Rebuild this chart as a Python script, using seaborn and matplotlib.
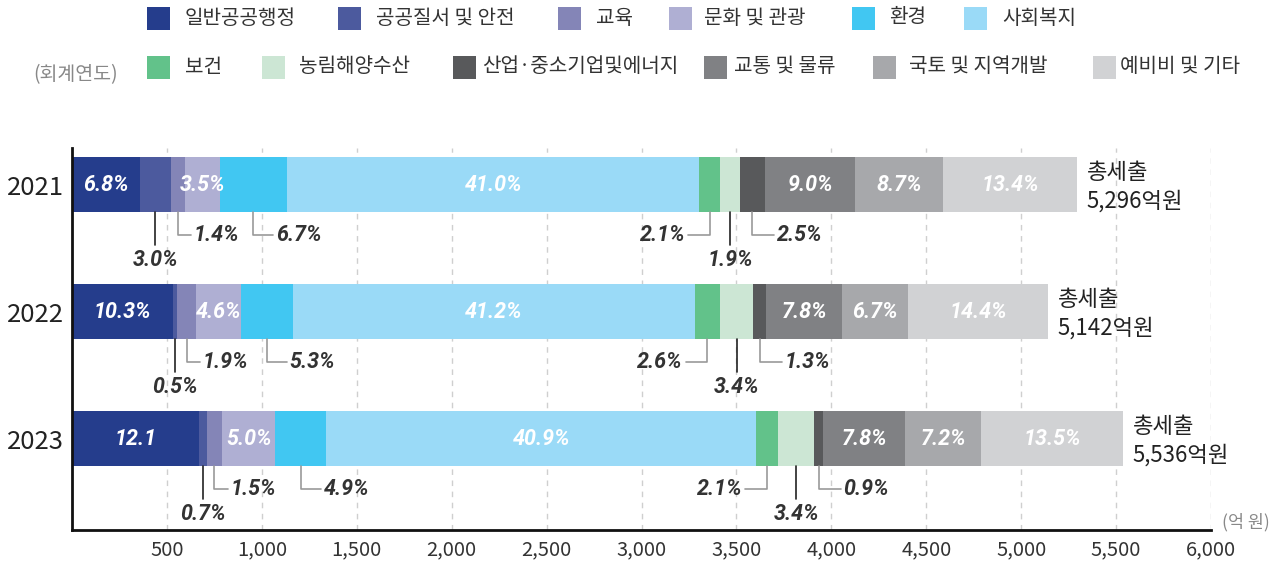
import numpy as np
import pandas as pd
import matplotlib
matplotlib.use("Agg")
import matplotlib.pyplot as plt
import seaborn as sns
from matplotlib.patches import Rectangle


# Data (share of total expenditure, %)
years = ["2021", "2022", "2023"]
totals = [5296, 5142, 5536]
categories = ["일반공공행정", "공공질서 및 안전", "교육", "문화 및 관광", "환경", "사회복지",
              "보건", "농림해양수산", "산업·중소기업및에너지", "교통 및 물류", "국토 및 지역개발", "예비비 및 기타"]
pct_2021 = [6.8, 3.0, 1.4, 3.5, 6.7, 41.0, 2.1, 1.9, 2.5, 9.0, 8.7, 13.4]
pct_2022 = [10.3, 0.5, 1.9, 4.6, 5.3, 41.2, 2.6, 3.4, 1.3, 7.8, 6.7, 14.4]
pct_2023 = [12.1, 0.7, 1.5, 5.0, 4.9, 40.9, 2.1, 3.4, 0.9, 7.8, 7.2, 13.5]
colors = ["#253d8c", "#4c5a9e", "#8485b7", "#afafd3", "#41c7f2", "#9adaf7",
          "#62c28a", "#cce6d4", "#58595b", "#808184", "#a7a8ab", "#d1d2d4"]

# how each share gets labelled: inside the bar or outside with a leader line
label_mode = ["in", "down", "right", "in", "right", "in", "left", "down", "right", "in", "in", "in"]
elbow_len = [0, 0, 70, 0, 105, 0, 115, 0, 115, 0, 0, 0]
label_fix = {("2023", "일반공공행정"): "12.1"}

W, H = 1287, 564


def build_frame():
    rows = []
    for year, total, pcts in zip(years, totals, [pct_2021, pct_2022, pct_2023]):
        for cat, p in zip(categories, pcts):
            rows.append({"year": year, "category": cat, "pct": p, "amount": p / 100 * total})
    df = pd.DataFrame(rows)
    df["cum"] = df.groupby("year")["amount"].cumsum()
    df["start"] = df["cum"] - df["amount"]
    df["mid"] = df["start"] + df["amount"] / 2
    return df


def draw_legend(fig):
    sq_x = [147, 338, 558, 669, 852, 964, 147, 262, 453, 704, 873, 1093]
    tx_x = [185, 376, 596, 704, 889, 1002, 185, 299, 482, 734, 909, 1120]
    for i, (cat, c) in enumerate(zip(categories, colors)):
        yc = 18 if i < 6 else 67
        fig.add_artist(Rectangle((sq_x[i] / W, 1 - (yc + 11.5) / H), 23 / W, 23 / H,
                                 transform=fig.transFigure, color=c, lw=0))
        fig.text(tx_x[i] / W, 1 - yc / H, cat, ha="left", va="center", fontsize=14.5, color="#333333")
    fig.text(33 / W, 1 - 75 / H, "(회계연도)", ha="left", va="center", fontsize=14, color="#888888")


def main():
    sns.set_style("white")
    plt.rcParams["font.family"] = ["Noto Sans CJK KR", "DejaVu Sans"]

    df = build_frame()

    fig = plt.figure(figsize=(W / 100, H / 100), dpi=100)
    ax = fig.add_axes([72 / W, 1 - 530 / H, (1211 - 72) / W, (530 - 148) / H])

    # stacked bars: draw cumulative widths from the last category back to the first
    bar_h = 0.433
    for i in reversed(range(len(categories))):
        sub = df[df["category"] == categories[i]]
        sns.barplot(data=sub, x="cum", y="year", order=years, orient="h", color=colors[i],
                    saturation=1, width=bar_h, errorbar=None, linewidth=0, ax=ax)

    ax.set_xlim(0, 6000)
    ax.set_ylim(2.717, -0.291)
    ax.set_xlabel("")
    ax.set_ylabel("")
    ticks = np.arange(500, 6001, 500)
    ax.set_xticks(ticks)
    ax.set_xticklabels([f"{t:,}" for t in ticks])
    ax.tick_params(axis="x", length=0, pad=7, labelsize=14.5, labelcolor="#333333")
    ax.tick_params(axis="y", length=0, pad=6, labelsize=18.5, labelcolor="#222222")
    ax.grid(axis="x", linestyle=(0, (4, 4)), color="#cfcfcf", linewidth=1)
    ax.set_axisbelow(True)
    sns.despine(ax=ax)
    for side in ["left", "bottom"]:
        ax.spines[side].set_linewidth(2)
        ax.spines[side].set_color("#111111")

    pct_font = dict(family=["Roboto", "DejaVu Sans"], weight="bold", style="italic", fontsize=15.5)
    half = bar_h / 2
    pos = {y: i for i, y in enumerate(years)}
    for _, r in df.iterrows():
        yc = pos[r["year"]]
        k = categories.index(r["category"])
        text = label_fix.get((r["year"], r["category"]), f"{r['pct']:.1f}%")
        mode = label_mode[k]
        mid = r["mid"]
        if mode == "in":
            ax.text(mid, yc, text, ha="center", va="center", color="white", **pct_font)
        elif mode == "down":
            ax.plot([mid, mid], [yc + half, yc + 0.47], color="#222222", lw=1.2)
            ax.text(mid, yc + 0.59, text, ha="center", va="center", color="#333333", **pct_font)
        elif mode == "right":
            ex = mid + elbow_len[k]
            ax.plot([mid, mid, ex], [yc + half, yc + 0.394, yc + 0.394], color="#999999", lw=1.2)
            ax.text(ex + 15, yc + 0.394, text, ha="left", va="center", color="#333333", **pct_font)
        else:
            ex = mid - elbow_len[k]
            ax.plot([mid, mid, ex], [yc + half, yc + 0.394, yc + 0.394], color="#999999", lw=1.2)
            ax.text(ex - 15, yc + 0.394, text, ha="right", va="center", color="#333333", **pct_font)

    for year, total in zip(years, totals):
        yc = pos[year]
        ax.text(total + 50, yc - 0.10, "총세출", ha="left", va="center", fontsize=16, color="#222222")
        ax.text(total + 50, yc + 0.13, f"{total:,}억원", ha="left", va="center", fontsize=16, color="#222222")

    fig.text(1222 / W, 1 - 522 / H, "(억 원)", ha="left", va="center", fontsize=12.5, color="#888888")
    draw_legend(fig)

    fig.savefig("out.png", dpi=100)


if __name__ == "__main__":
    main()
